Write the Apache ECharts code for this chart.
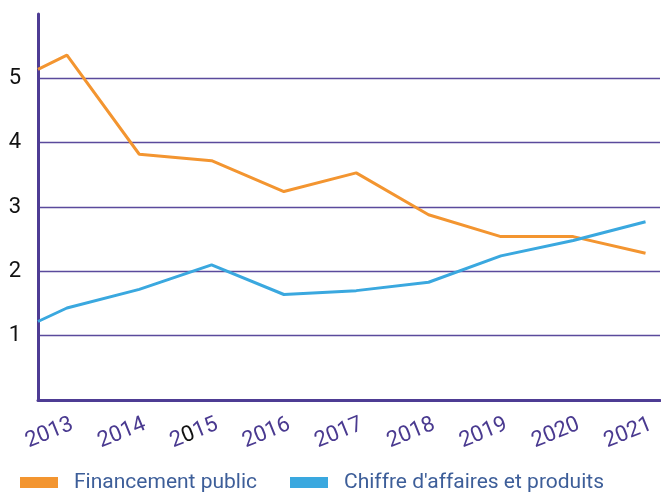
<!DOCTYPE html>
<html>
<head>
<meta charset="utf-8">
<script src="https://cdn.jsdelivr.net/npm/echarts@6/dist/echarts.min.js"></script>
<style>
  html, body { margin: 0; padding: 0; background: #fff; }
  #main { width: 661px; height: 493px; }
</style>
</head>
<body>
<div id="main"></div>
<script>
// years (first point is where the line leaves the y axis)
var years = [2012.6, 2013, 2014, 2015, 2016, 2017, 2018, 2019, 2020, 2021];
var yearLabels = [2013, 2014, 2015, 2016, 2017, 2018, 2019, 2020, 2021];
var financementPublic = [5.14, 5.36, 3.82, 3.72, 3.24, 3.53, 2.88, 2.54, 2.54, 2.28];
var chiffreAffaires = [1.22, 1.43, 1.72, 2.10, 1.64, 1.70, 1.83, 2.24, 2.48, 2.77];
var yTicks = [1, 2, 3, 4, 5];

var purple = '#4e3c94';
var orange = '#f39530';
var blue = '#3aa8df';

function pairs(xs, ys) {
    return xs.map(function (x, i) { return [x, ys[i]]; });
}

var myChart = echarts.init(document.getElementById('main'));
var legendText = { color: '#3d5e99', fontSize: 21, fontFamily: 'Roboto', padding: [0, 0, 0, 11] };
var option = {
    animation: false,
    grid: { left: 38, right: 1, top: 14, bottom: 93 },
    legend: [
        {
            left: 15, top: 467,
            data: ['Financement public'],
            itemWidth: 38, itemHeight: 11,
            icon: 'rect',
            textStyle: legendText
        },
        {
            left: 285, top: 467,
            data: ["Chiffre d'affaires et produits"],
            itemWidth: 38, itemHeight: 11,
            icon: 'rect',
            textStyle: legendText
        }
    ],
    xAxis: {
        type: 'value',
        min: 2012.6,
        max: 2021.2,
        axisLine: { show: true, lineStyle: { color: purple, width: 3 } },
        axisTick: { show: false },
        splitLine: { show: false },
        axisLabel: {
            customValues: yearLabels,
            rotate: 22,
            margin: 26,
            padding: [0, -6, 0, 0],
            color: '#4a3a90',
            fontSize: 22,
            fontFamily: 'Roboto',
            formatter: function (v) {
                if (v === 2015) return '2{k|0}15';
                return String(v);
            },
            rich: { k: { color: '#111', fontSize: 22, fontFamily: 'Roboto' } }
        }
    },
    yAxis: {
        type: 'value',
        min: 0,
        max: 6,
        interval: 1,
        axisLine: { show: true, lineStyle: { color: purple, width: 3 } },
        axisTick: { show: false },
        splitLine: {
            show: true,
            showMinLine: false,
            showMaxLine: false,
            lineStyle: { color: '#5a4a9c', width: 1.3 }
        },
        axisLabel: {
            customValues: yTicks,
            margin: 17,
            color: '#111',
            fontSize: 22,
            fontFamily: 'Roboto'
        }
    },
    series: [
        {
            name: 'Financement public',
            type: 'line',
            data: pairs(years, financementPublic),
            symbol: 'none',
            color: orange,
            lineStyle: { width: 3, color: orange }
        },
        {
            name: "Chiffre d'affaires et produits",
            type: 'line',
            data: pairs(years, chiffreAffaires),
            symbol: 'none',
            color: blue,
            lineStyle: { width: 3, color: blue }
        }
    ]
};
myChart.setOption(option);
</script>
</body>
</html>
